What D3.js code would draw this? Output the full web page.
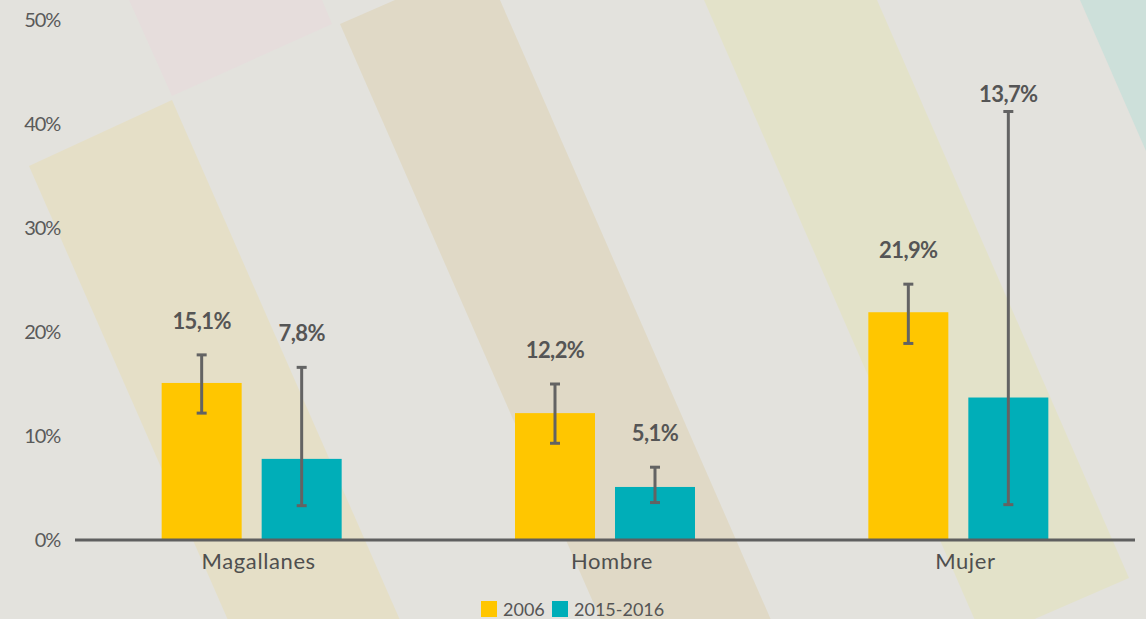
<!DOCTYPE html>
<html>
<head>
<meta charset="utf-8">
<script src="https://cdn.jsdelivr.net/npm/d3@7"></script>
<style>
  body { margin: 0; background: #e3e2dd; }
  svg { display: block; font-family: Lato, "Open Sans", sans-serif; }
</style>
</head>
<body>
<script>
// chart data
var categories = ["Magallanes", "Hombre", "Mujer"];
var seriesNames = ["2006", "2015-2016"];
var values2006 = [15.1, 12.2, 21.9];
var values2015 = [7.8, 5.1, 13.7];
var low2006 = [12.2, 9.3, 18.9];
var high2006 = [17.8, 15.0, 24.6];
var low2015 = [3.3, 3.6, 3.4];
var high2015 = [16.6, 7.0, 41.2];
var yTicks = [0, 10, 20, 30, 40, 50];

var colors = ["#ffc600", "#00aeb8"];

var w = 1146;
var h = 619;

var svg = d3.select("body")
  .append("svg")
  .attr("width", w)
  .attr("height", h);

// background decoration (diagonal stripes)
var stripes = [
  { pts: [[129, 0], [322, 0], [332, 24], [172, 96]], fill: "#e6dddc" },
  { pts: [[29, 166], [172, 100], [435, 700], [263, 700]], fill: "#e5dfc7" },
  { pts: [[340, 24], [395, 0], [500, 0], [806, 700], [636, 700]], fill: "#e0d9c6" },
  { pts: [[704, 0], [877, 0], [1129, 578], [984, 641]], fill: "#e3e2c9" },
  { pts: [[1080, 0], [1146, 0], [1146, 151]], fill: "#cde0da" }
];

svg.append("rect")
  .attr("width", w)
  .attr("height", h)
  .attr("fill", "#e3e2dd");

svg.selectAll("polygon.stripe")
  .data(stripes)
  .enter()
  .append("polygon")
  .attr("class", "stripe")
  .attr("points", function(d) { return d.pts.map(function(p) { return p.join(","); }).join(" "); })
  .attr("fill", function(d) { return d.fill; });

// scales
var x = d3.scaleBand()
  .domain(categories)
  .range([75, 1135]);

var y = d3.scaleLinear()
  .domain([0, 50])
  .range([540, 20]);

var barW = 80;
var barGap = 20;

// rows: one per bar
var rows = [];
categories.forEach(function(c, i) {
  rows.push({ cat: c, s: 0, v: values2006[i], lo: low2006[i], hi: high2006[i] });
  rows.push({ cat: c, s: 1, v: values2015[i], lo: low2015[i], hi: high2015[i] });
});

function barX(d) {
  var center = x(d.cat) + x.bandwidth() / 2;
  return d.s === 0 ? center - barGap / 2 - barW : center + barGap / 2;
}

// y axis labels
svg.selectAll("text.ytick")
  .data(yTicks)
  .enter()
  .append("text")
  .attr("class", "ytick")
  .attr("x", 60)
  .attr("y", function(d) { return y(d); })
  .attr("dy", "0.35em")
  .attr("text-anchor", "end")
  .attr("fill", "#5a5a5a")
  .attr("font-size", 20)
  .attr("letter-spacing", "-1.2px")
  .text(function(d) { return d + "%"; });

// bars
svg.selectAll("rect.bar")
  .data(rows)
  .enter()
  .append("rect")
  .attr("class", "bar")
  .attr("x", barX)
  .attr("y", function(d) { return y(d.v); })
  .attr("width", barW)
  .attr("height", function(d) { return y(0) - y(d.v); })
  .attr("fill", function(d) { return colors[d.s]; });

// baseline
svg.append("line")
  .attr("x1", x.range()[0])
  .attr("x2", x.range()[1])
  .attr("y1", y(0))
  .attr("y2", y(0))
  .attr("stroke", "#5f5f5f")
  .attr("stroke-width", 3);

// error bars
var err = svg.selectAll("g.err")
  .data(rows)
  .enter()
  .append("g")
  .attr("class", "err")
  .attr("stroke", "#636363")
  .attr("stroke-width", 3);

err.append("line")
  .attr("x1", function(d) { return barX(d) + barW / 2; })
  .attr("x2", function(d) { return barX(d) + barW / 2; })
  .attr("y1", function(d) { return y(d.lo); })
  .attr("y2", function(d) { return y(d.hi); });

err.selectAll("line.cap")
  .data(function(d) { return [{ r: d, v: d.lo }, { r: d, v: d.hi }]; })
  .enter()
  .append("line")
  .attr("class", "cap")
  .attr("x1", function(d) { return barX(d.r) + barW / 2 - 5; })
  .attr("x2", function(d) { return barX(d.r) + barW / 2 + 5; })
  .attr("y1", function(d) { return y(d.v); })
  .attr("y2", function(d) { return y(d.v); });

// value labels (sit above the error bar, a bit closer for the tall one)
svg.selectAll("text.val")
  .data(rows)
  .enter()
  .append("text")
  .attr("class", "val")
  .attr("x", function(d) { return barX(d) + barW / 2; })
  .attr("y", function(d) { return Math.max(y(d.hi) - 26, 102); })
  .attr("text-anchor", "middle")
  .attr("fill", "#555555")
  .attr("font-size", 22)
  .attr("font-weight", "bold")
  .attr("letter-spacing", "-0.6px")
  .text(function(d) { return d3.format(".1f")(d.v).replace(".", ",") + "%"; });

// category labels
svg.selectAll("text.cat")
  .data(categories)
  .enter()
  .append("text")
  .attr("class", "cat")
  .attr("x", function(d) { return x(d) + x.bandwidth() / 2 + 7; })
  .attr("y", 569)
  .attr("text-anchor", "middle")
  .attr("fill", "#4f4f4f")
  .attr("font-size", 22)
  .attr("letter-spacing", "0.6px")
  .text(function(d) { return d; });

// legend
var legendX = [481, 552];
var legend = svg.selectAll("g.legend")
  .data(seriesNames)
  .enter()
  .append("g")
  .attr("class", "legend")
  .attr("transform", function(d, i) { return "translate(" + legendX[i] + ",601)"; });

legend.append("rect")
  .attr("width", 16)
  .attr("height", 16)
  .attr("fill", function(d, i) { return colors[i]; });

legend.append("text")
  .attr("x", 22)
  .attr("y", 15)
  .attr("fill", "#555555")
  .attr("font-size", 18)
  .text(function(d) { return d; });
</script>
</body>
</html>
